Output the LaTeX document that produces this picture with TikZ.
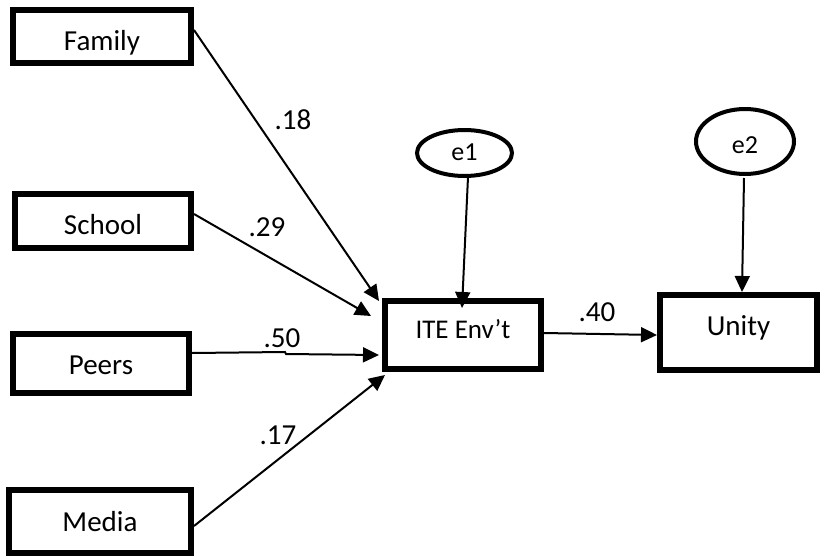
\documentclass[tikz,border=0pt]{standalone}
\usepackage{fontspec}
\setmainfont{Carlito}
\usetikzlibrary{arrows.meta,shapes.geometric}
\tikzset{
  box/.style={draw, line width=6pt, inner sep=0pt, text depth=0pt, font=\fontsize{29}{34}\selectfont},
  errnode/.style={draw, ellipse, line width=4pt, inner sep=0pt, text depth=0pt, font=\fontsize{26}{30}\selectfont},
  pathline/.style={line width=2pt, -{Triangle[length=16pt,width=15pt]}},
  coef/.style={font=\fontsize{29}{34}\selectfont, inner sep=0pt}
}
\begin{document}
\begin{tikzpicture}[x=1pt,y=-1pt]
\useasboundingbox (0,0) rectangle (820,557);
% boxes
\node[box, minimum width=178pt, minimum height=53pt, text height=27pt] (fam) at (102,36.5) {Family};
\node[box, minimum width=176pt, minimum height=54pt, text height=26pt] (sch) at (103,221) {School};
\node[box, minimum width=176pt, minimum height=59pt, text height=21pt] (peer) at (101,363.5) {Peers};
\node[box, minimum width=182pt, minimum height=63pt, text height=19pt] (med) at (100,521.5) {Media};
\node[box, minimum width=156pt, minimum height=68pt, text height=6pt, font=\fontsize{27}{32}\selectfont] (ite) at (463,335) {ITE Env’t};
\node[box, minimum width=157pt, minimum height=75pt, text height=5pt] (unity) at (738.5,332.5) {Unity};
% error terms
\node[errnode, minimum width=95pt, minimum height=46pt, text height=14pt] (e1) at (464.5,153) {e1};
\node[errnode, minimum width=98pt, minimum height=65pt, text height=23pt] (e2) at (745,141.5) {e2};
% arrow tips
\coordinate (tF) at (379,301);
\coordinate (tS) at (371,316);
\coordinate (kP1) at (285,352);
\coordinate (kP2) at (286,354);
\coordinate (tP) at (379,355);
\coordinate (tM) at (385,375);
\coordinate (tE1) at (462,308);
\coordinate (tE2) at (742,292);
\coordinate (tU) at (657,335);
% paths
\draw[pathline] ([yshift=6.5pt]fam.east) -- (tF);
\draw[pathline] ([yshift=7pt]sch.east) -- (tS);
\draw[pathline] ([yshift=10.5pt]peer.east) -- (kP1) -- (kP2) -- (tP);
\draw[pathline] ([yshift=-4.5pt]med.east) -- (tM);
\draw[pathline] ([xshift=3.5pt,yshift=1pt]e1.south) -- (tE1);
\draw[pathline] ([xshift=-1pt,yshift=-2pt]e2.south) -- (tE2);
\draw[pathline] ([yshift=2pt]ite.east) -- (tU);
% coefficients
\node[coef] (c18) at (293,120) {.18};
\node[coef] (c29) at (267,227) {.29};
\node[coef] (c50) at (282,338) {.50};
\node[coef] (c17) at (278,435) {.17};
\node[coef] (c40) at (597,312) {.40};
\end{tikzpicture}
\end{document}
